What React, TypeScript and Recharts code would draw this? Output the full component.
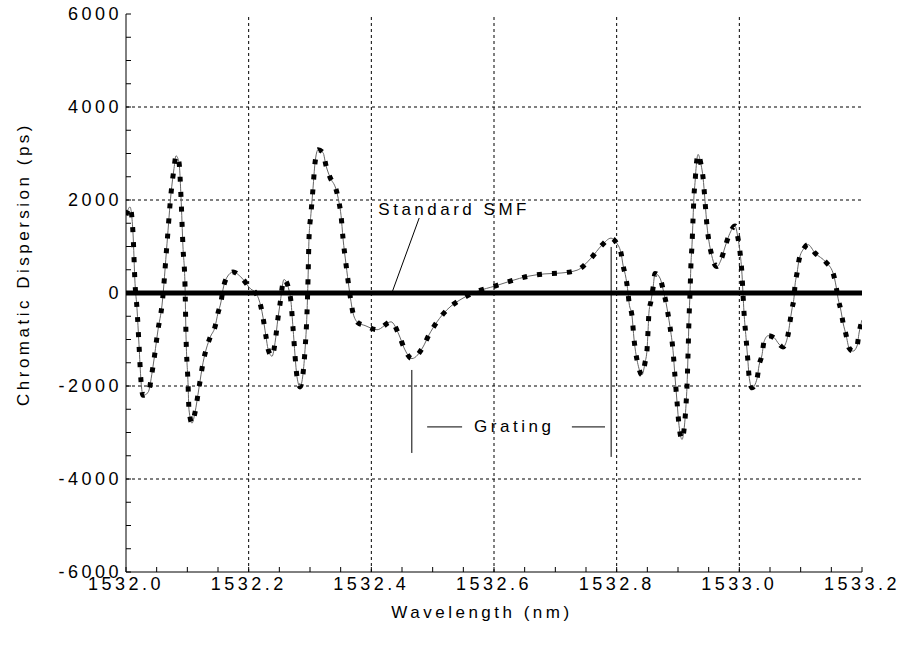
import {
  LineChart,
  Line,
  XAxis,
  YAxis,
  ReferenceLine,
  ReferenceDot,
} from "recharts";

const wavelengths = [
  1532.0, 1532.0065, 1532.0114, 1532.0147, 1532.0179, 1532.0212, 1532.0245, 1532.0277,
  1532.0359, 1532.044, 1532.0522, 1532.0587, 1532.0669, 1532.0734, 1532.0783, 1532.0815,
  1532.0864, 1532.0897, 1532.0929, 1532.0962, 1532.0978, 1532.1011, 1532.1027, 1532.1076,
  1532.1125, 1532.119, 1532.1256, 1532.137, 1532.1451, 1532.15, 1532.1549, 1532.1582,
  1532.1647, 1532.1745, 1532.1891, 1532.2038, 1532.2087, 1532.2169, 1532.2217, 1532.2283,
  1532.2315, 1532.2381, 1532.243, 1532.2478, 1532.2511, 1532.2576, 1532.2658, 1532.269,
  1532.2723, 1532.2788, 1532.2837, 1532.2886, 1532.2919, 1532.2951, 1532.2968, 1532.2984,
  1532.3016, 1532.3049, 1532.3082, 1532.3131, 1532.3212, 1532.3261, 1532.3326, 1532.3424,
  1532.3473, 1532.3506, 1532.3538, 1532.3587, 1532.3636, 1532.3669, 1532.3701, 1532.3783,
  1532.3897, 1532.4093, 1532.4321, 1532.4451, 1532.4533, 1532.4663, 1532.4843, 1532.494,
  1532.5071, 1532.5234, 1532.5495, 1532.5739, 1532.6017, 1532.6277, 1532.6555, 1532.6816,
  1532.7093, 1532.7354, 1532.7582, 1532.7761, 1532.7908, 1532.799, 1532.8071, 1532.8104,
  1532.8153, 1532.8185, 1532.8202, 1532.825, 1532.8283, 1532.8348, 1532.8413, 1532.8462,
  1532.8495, 1532.8511, 1532.8527, 1532.856, 1532.8593, 1532.8625, 1532.8707, 1532.8756,
  1532.8805, 1532.8837, 1532.887, 1532.8919, 1532.8951, 1532.8984, 1532.9017, 1532.9066,
  1532.9098, 1532.9131, 1532.9147, 1532.9163, 1532.918, 1532.9196, 1532.9212, 1532.9229,
  1532.9245, 1532.9261, 1532.9278, 1532.9294, 1532.9327, 1532.9376, 1532.9408, 1532.9441,
  1532.9473, 1532.9506, 1532.9538, 1532.9587, 1532.9636, 1532.9701, 1532.9767, 1532.9832,
  1532.993, 1532.9978, 1533.0011, 1533.0044, 1533.006, 1533.0076, 1533.0109, 1533.0142,
  1533.0158, 1533.0207, 1533.0289, 1533.0321, 1533.037, 1533.0402, 1533.0468, 1533.0566,
  1533.0647, 1533.0712, 1533.0794, 1533.0826, 1533.0859, 1533.0892, 1533.0908, 1533.0941,
  1533.0973, 1533.1054, 1533.112, 1533.1234, 1533.1413, 1533.1528, 1533.1577, 1533.1609,
  1533.1658, 1533.1691, 1533.174, 1533.1789, 1533.1854, 1533.1919, 1533.1952, 1533.2,
];

const dispersion = [
  1670, 1850, 1290, 210, -330, -1110, -1900, -2200,
  -2140, -1580, -790, -260, 1070, 2140, 2680, 2950,
  2810, 2060, 990, 170, -900, -1930, -2510, -2800,
  -2570, -2040, -1500, -960, -730, -430, -190, 80,
  340, 450, 320, 80, 40, -150, -400, -940,
  -1200, -1360, -1070, -540, -240, 290, 60, -190,
  -750, -1800, -2020, -1740, -1220, -430, 300, 1180,
  1710, 2250, 2800, 3080, 3020, 2740, 2490, 2230,
  1950, 1670, 1180, 620, 110, -190, -430, -640,
  -700, -790, -620, -900, -1180, -1410, -1160, -900,
  -620, -360, -110, 40, 150, 260, 360, 410,
  430, 490, 750, 1030, 1180, 1090, 860, 600,
  310, 10, -210, -490, -990, -1540, -1760, -1500,
  -1220, -830, -410, -170, 110, 420, 320, 80,
  -210, -450, -730, -1240, -1800, -2340, -2850, -3150,
  -2940, -2400, -2000, -1350, -540, 0, 650, 1050,
  1590, 2100, 2380, 2680, 2980, 2760, 2490, 1970,
  1440, 1100, 880, 640, 570, 710, 990, 1240,
  1440, 1180, 880, 390, -20, -410, -960, -1500,
  -1780, -2040, -1840, -1560, -1330, -1050, -920, -960,
  -1100, -1160, -900, -620, -340, -90, 170, 430,
  710, 960, 1040, 860, 660, 430, 150, -110,
  -390, -640, -900, -1180, -1250, -1140, -860, -580,
];

const xTicks = [1532.0, 1532.2, 1532.4, 1532.6, 1532.8, 1533.0, 1533.2];
const yTicks = [-6000, -4000, -2000, 0, 2000, 4000, 6000];

const data = wavelengths.map((w, i) => ({ wavelength: w, dispersion: dispersion[i] }));

// minor tick marks on the frame
const xMinor = Array.from({ length: 25 }, (_, i) => +(1532 + i * 0.05).toFixed(2));
const yMinor = Array.from({ length: 25 }, (_, i) => -6000 + i * 500);

const FONT = "'Liberation Sans', Arial, sans-serif";
const textStyle = { fontFamily: FONT, fontSize: 17, letterSpacing: "3.5px", fill: "#000" };
const tickStyle = { fill: "#000", fontSize: 18, fontFamily: FONT, letterSpacing: 3.5 };

const isMajorX = (v: number) => xTicks.some((t) => Math.abs(t - v) < 1e-6);
const isMajorY = (v: number) => yTicks.includes(v);

const centeredText = (value: string) => (props: any) => {
  const vb = props.viewBox || { x: 0, y: 0, width: 0, height: 0 };
  const cx = vb.x + (vb.width || 0) / 2;
  const cy = vb.y + (vb.height || 0) / 2;
  return (
    <text x={cx} y={cy} textAnchor="middle" dominantBaseline="central" style={textStyle}>
      {value}
    </text>
  );
};

export default function App() {
  return (
    <div style={{ position: "absolute", left: 0, top: 0, background: "#fff" }}>
      <LineChart
        width={901}
        height={645}
        data={data}
        margin={{ top: 14, right: 39, bottom: 0, left: 0 }}
      >
        <XAxis
          dataKey="wavelength"
          type="number"
          domain={[1532, 1533.2]}
          allowDataOverflow
          ticks={xMinor}
          interval={0}
          tickFormatter={(v: number) => (isMajorX(v) ? v.toFixed(1) : "")}
          tickSize={-5}
          tickMargin={10}
          height={73}
          axisLine={{ stroke: "#000" }}
          tickLine={{ stroke: "#000" }}
          tick={tickStyle}
          label={{
            content: () => (
              <text x={482} y={612} textAnchor="middle" dominantBaseline="central" style={textStyle}>
                Wavelength (nm)
              </text>
            ),
          }}
        />
        <XAxis
          xAxisId="top"
          orientation="top"
          type="number"
          domain={[1532, 1533.2]}
          allowDataOverflow
          ticks={xMinor}
          interval={0}
          tick={false}
          tickSize={-5}
          height={0}
          axisLine={{ stroke: "#000" }}
          tickLine={{ stroke: "#000" }}
        />
        <YAxis
          type="number"
          domain={[-6000, 6000]}
          allowDataOverflow
          ticks={yMinor}
          interval={0}
          tickFormatter={(v: number) => (isMajorY(v) ? String(v) : "")}
          tickSize={-5}
          tickMargin={9}
          width={126}
          axisLine={{ stroke: "#000" }}
          tickLine={{ stroke: "#000" }}
          tick={tickStyle}
          label={{
            content: () => (
              <text
                x={23}
                y={264}
                transform="rotate(-90 23 264)"
                textAnchor="middle"
                dominantBaseline="central"
                style={textStyle}
              >
                Chromatic Dispersion (ps)
              </text>
            ),
          }}
        />
        <YAxis
          yAxisId="right"
          orientation="right"
          type="number"
          domain={[-6000, 6000]}
          allowDataOverflow
          ticks={yMinor}
          interval={0}
          tick={false}
          tickSize={-5}
          width={0}
          axisLine={{ stroke: "#000" }}
          tickLine={{ stroke: "#000" }}
        />

        {xTicks.slice(1, -1).map((t) => (
          <ReferenceLine key={`gx${t}`} x={t} stroke="#000" strokeDasharray="3 3" strokeWidth={1} />
        ))}
        {yTicks.slice(1, -1).map((t) => (
          <ReferenceLine key={`gy${t}`} y={t} stroke="#000" strokeDasharray="3 3" strokeWidth={1} />
        ))}

        <Line
          dataKey="dispersion"
          type="monotone"
          stroke="#666"
          strokeWidth={1}
          dot={false}
          activeDot={false}
          isAnimationActive={false}
        />
        <Line
          dataKey="dispersion"
          type="monotone"
          stroke="#000"
          strokeWidth={5}
          strokeDasharray="5 10"
          dot={false}
          activeDot={false}
          isAnimationActive={false}
        />

        {/* Standard SMF: zero dispersion */}
        <ReferenceLine y={0} stroke="#000" strokeWidth={5} />
        <ReferenceLine
          segment={[
            { x: 1532.478, y: 1612 },
            { x: 1532.434, y: 20 },
          ]}
          stroke="#000"
          strokeWidth={1}
        />
        <ReferenceDot x={1532.535} y={1785} r={0} fill="none" stroke="none" label={{ content: centeredText("Standard SMF") }} />

        {/* Grating markers */}
        <ReferenceLine
          segment={[
            { x: 1532.466, y: -1655 },
            { x: 1532.466, y: -3440 },
          ]}
          stroke="#000"
          strokeWidth={1}
        />
        <ReferenceLine
          segment={[
            { x: 1532.791, y: 990 },
            { x: 1532.791, y: -3525 },
          ]}
          stroke="#000"
          strokeWidth={1}
        />
        <ReferenceLine
          segment={[
            { x: 1532.491, y: -2880 },
            { x: 1532.548, y: -2880 },
          ]}
          stroke="#000"
          strokeWidth={1}
        />
        <ReferenceLine
          segment={[
            { x: 1532.727, y: -2880 },
            { x: 1532.781, y: -2880 },
          ]}
          stroke="#000"
          strokeWidth={1}
        />
        <ReferenceDot x={1532.633} y={-2880} r={0} fill="none" stroke="none" label={{ content: centeredText("Grating") }} />
      </LineChart>
    </div>
  );
}
